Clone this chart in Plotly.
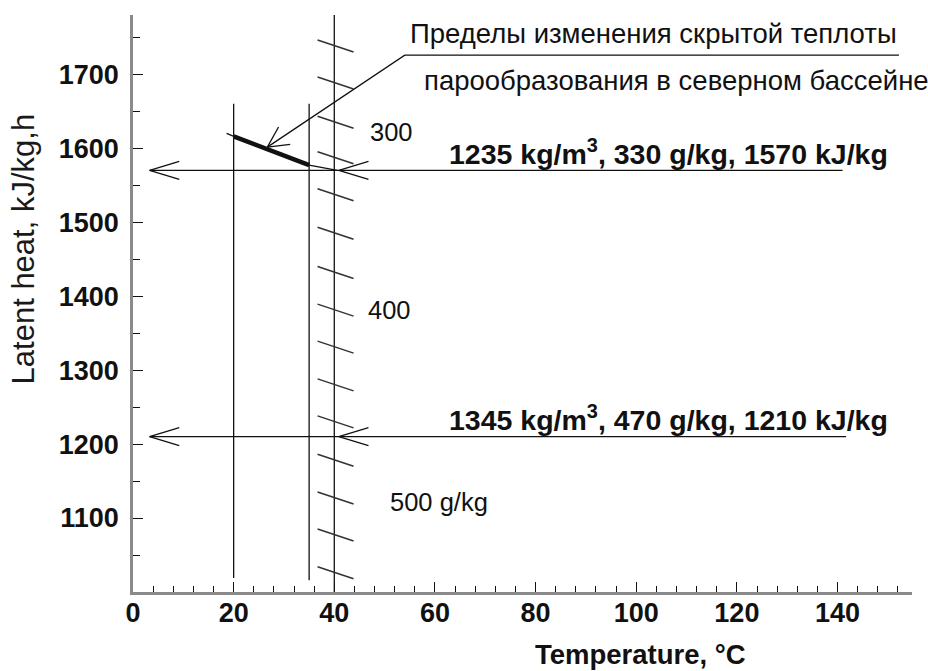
import math
import plotly.graph_objects as go

# ---- axis extents and ticks -------------------------------------------------
X_RANGE = [0, 154.8]
Y_RANGE = [1000, 1780]
x_tick_vals = [0, 20, 40, 60, 80, 100, 120, 140]
y_tick_vals = [1100, 1200, 1300, 1400, 1500, 1600, 1700]

# ---- northern basin: latent heat range between 20 and 35 °C ----------------
basin_temp = [20, 35]
basin_heat = [1616, 1577]
basin_ext_temp = [18.6, 20, 35, 40.6]
basin_ext_heat = [1620, 1616, 1577, 1570]

# ---- temperature guide lines (°C) and their vertical extent (kJ/kg) --------
guide_temp = [20, 35]
guide_heat_low = [1019, 1016]
guide_heat_high = [1660, 1660]

# ---- concentration scale drawn along the 40 °C isotherm ---------------------
scale_temp = 40
scale_hatch_heat = [1738, 1688, 1635, 1587, 1537, 1485, 1432, 1381,
                    1331, 1280, 1230, 1178, 1127, 1077, 1026]
scale_labels = ["300", "400", "500 g/kg"]
scale_label_temp = [51.4, 51.0, 50.6]
scale_label_heat = [1622, 1381, 1122]
scale_label_anchor = ["center", "center", "left"]

# ---- read-off lines: density, concentration, latent heat --------------------
readoff_heat = [1570, 1210]
readoff_density = [1235, 1345]
readoff_conc = [330, 470]
readoff_start = 3.3
readoff_end = [141.0, 141.7]
readoff_scale_tip = 40.9
readoff_label_temp = 62.3
readoff_label_heat = [1595, 1235]

# ---- callout ----------------------------------------------------------------
note_lines = ["Пределы изменения скрытой теплоты",
              "парообразования в северном бассейне"]
note_line_temp = [54.6, 57.5]
note_line_heat = [1755, 1692]
note_anchor = (54.0, 1725.7)
note_tip = (26.7, 1601.4)
note_end = 152.2

# ---- page geometry ----------------------------------------------------------
W, H = 928, 671
M = dict(l=133, r=16, t=15, b=79)
PX_X = (W - M["l"] - M["r"]) / (X_RANGE[1] - X_RANGE[0])
PX_Y = (H - M["t"] - M["b"]) / (Y_RANGE[1] - Y_RANGE[0])

FONT = "Liberation Sans, Arial, sans-serif"
INK = "#111111"


def offset(x, y, dx_px, dy_px):
    """Point shifted by screen pixels (dy positive downward)."""
    return x + dx_px / PX_X, y - dy_px / PX_Y


def chevron(tip_x, tip_y, dir_px, length_px, spread_deg):
    """Open arrow head: two barbs from the tip opening along dir_px."""
    ang = math.atan2(dir_px[1], dir_px[0])
    xs, ys = [], []
    for s in (-1, 1):
        a = ang + s * math.radians(spread_deg)
        bx, by = offset(tip_x, tip_y, length_px * math.cos(a), length_px * math.sin(a))
        xs += [tip_x, bx, None]
        ys += [tip_y, by, None]
    return xs, ys


fig = go.Figure()

# thin line work collected into one trace
lx, ly = [], []

# guide verticals at 20 and 35 °C
for t, lo, hi in zip(guide_temp, guide_heat_low, guide_heat_high):
    lx += [t, t, None]
    ly += [lo, hi, None]

# 40 °C isotherm
lx += [scale_temp, scale_temp, None]
ly += [Y_RANGE[0], Y_RANGE[1], None]

# read-off lines with open arrow heads
for h, xe in zip(readoff_heat, readoff_end):
    lx += [readoff_start, xe, None]
    ly += [h, h, None]
    for tip in (readoff_start, readoff_scale_tip):
        cx, cy = chevron(tip, h, (1, 0), 31, 17)
        lx += cx
        ly += cy

# extension of the basin segment to the isotherm
lx += basin_ext_temp + [None]
ly += basin_ext_heat + [None]

# callout leader, underline and arrow head
lx += [note_tip[0], note_anchor[0], note_end, None]
ly += [note_tip[1], note_anchor[1], note_anchor[1], None]
cx, cy = chevron(note_tip[0], note_tip[1], (137, -92), 23, 27)
lx += cx
ly += cy

fig.add_trace(go.Scatter(x=lx, y=ly, mode="lines",
                         line=dict(color=INK, width=1.3),
                         hoverinfo="skip", showlegend=False))

# hatch marks of the concentration scale
hx, hy = [], []
for h in scale_hatch_heat:
    x0, y0 = offset(scale_temp + 0.25, h, -18, -6)
    x1, y1 = offset(scale_temp + 0.25, h, 18, 6)
    hx += [x0, x1, None]
    hy += [y0, y1, None]
fig.add_trace(go.Scatter(x=hx, y=hy, mode="lines",
                         line=dict(color="#333333", width=1.5),
                         hoverinfo="skip", showlegend=False))

# latent heat range in the northern basin
fig.add_trace(go.Scatter(x=basin_temp, y=basin_heat, mode="lines",
                         line=dict(color=INK, width=4.5),
                         hoverinfo="skip", showlegend=False))

annotations = []
for txt, x, y in zip(note_lines, note_line_temp, note_line_heat):
    annotations.append(dict(x=x, y=y, xref="x", yref="y", text=txt,
                            showarrow=False, xanchor="left", yanchor="middle",
                            font=dict(family=FONT, size=27.5, color=INK)))

for txt, x, y, anc in zip(scale_labels, scale_label_temp, scale_label_heat, scale_label_anchor):
    annotations.append(dict(x=x, y=y, xref="x", yref="y", text=txt,
                            showarrow=False, xanchor=anc, yanchor="middle",
                            font=dict(family=FONT, size=25.5, color=INK)))

for d, c, h, y in zip(readoff_density, readoff_conc, readoff_heat, readoff_label_heat):
    annotations.append(dict(x=readoff_label_temp, y=y, xref="x", yref="y",
                            text=f"{d} kg/m<sup>3</sup>, {c} g/kg, {h} kJ/kg",
                            showarrow=False, xanchor="left", yanchor="middle",
                            font=dict(family=FONT, size=28.5, color=INK, weight="bold")))

# axis titles
annotations.append(dict(x=0.651, y=-M["b"] / (H - M["t"] - M["b"]),
                        xref="paper", yref="paper",
                        text="Temperature, °C", showarrow=False, borderpad=0,
                        xanchor="center", yanchor="bottom",
                        font=dict(family=FONT, size=27.5, color=INK, weight="bold")))
annotations.append(dict(x=-0.141, y=0.594, xref="paper", yref="paper",
                        text="Latent heat, kJ/kg,h", showarrow=False, textangle=-90,
                        xanchor="center", yanchor="middle",
                        font=dict(family=FONT, size=31, color="#1a1a1a")))

tick_font = dict(family=FONT, size=27, color=INK, weight="bold")
axis_common = dict(showgrid=False, zeroline=False, showline=True,
                   linecolor="#8a8a8a", linewidth=2.5,
                   ticks="inside", tickcolor=INK, tickwidth=1.2, ticklen=10,
                   tickfont=tick_font, fixedrange=True)

fig.update_layout(
    width=W, height=H,
    margin=dict(l=M["l"], r=M["r"], t=M["t"], b=M["b"], autoexpand=False),
    paper_bgcolor="white", plot_bgcolor="white",
    xaxis=dict(range=X_RANGE, tickmode="array", tickvals=x_tick_vals,
               minor=dict(dtick=4, tick0=0, ticks="inside", ticklen=6,
                          tickcolor=INK, tickwidth=1.2),
               ticklabelstandoff=-5, **axis_common),
    yaxis=dict(range=Y_RANGE, tickmode="array", tickvals=y_tick_vals,
               minor=dict(dtick=50, tick0=1000, ticks="inside", ticklen=7,
                          tickcolor=INK, tickwidth=1.2),
               ticklabelstandoff=6, **axis_common),
    annotations=annotations,
    showlegend=False,
)

fig.write_html("out.html")
